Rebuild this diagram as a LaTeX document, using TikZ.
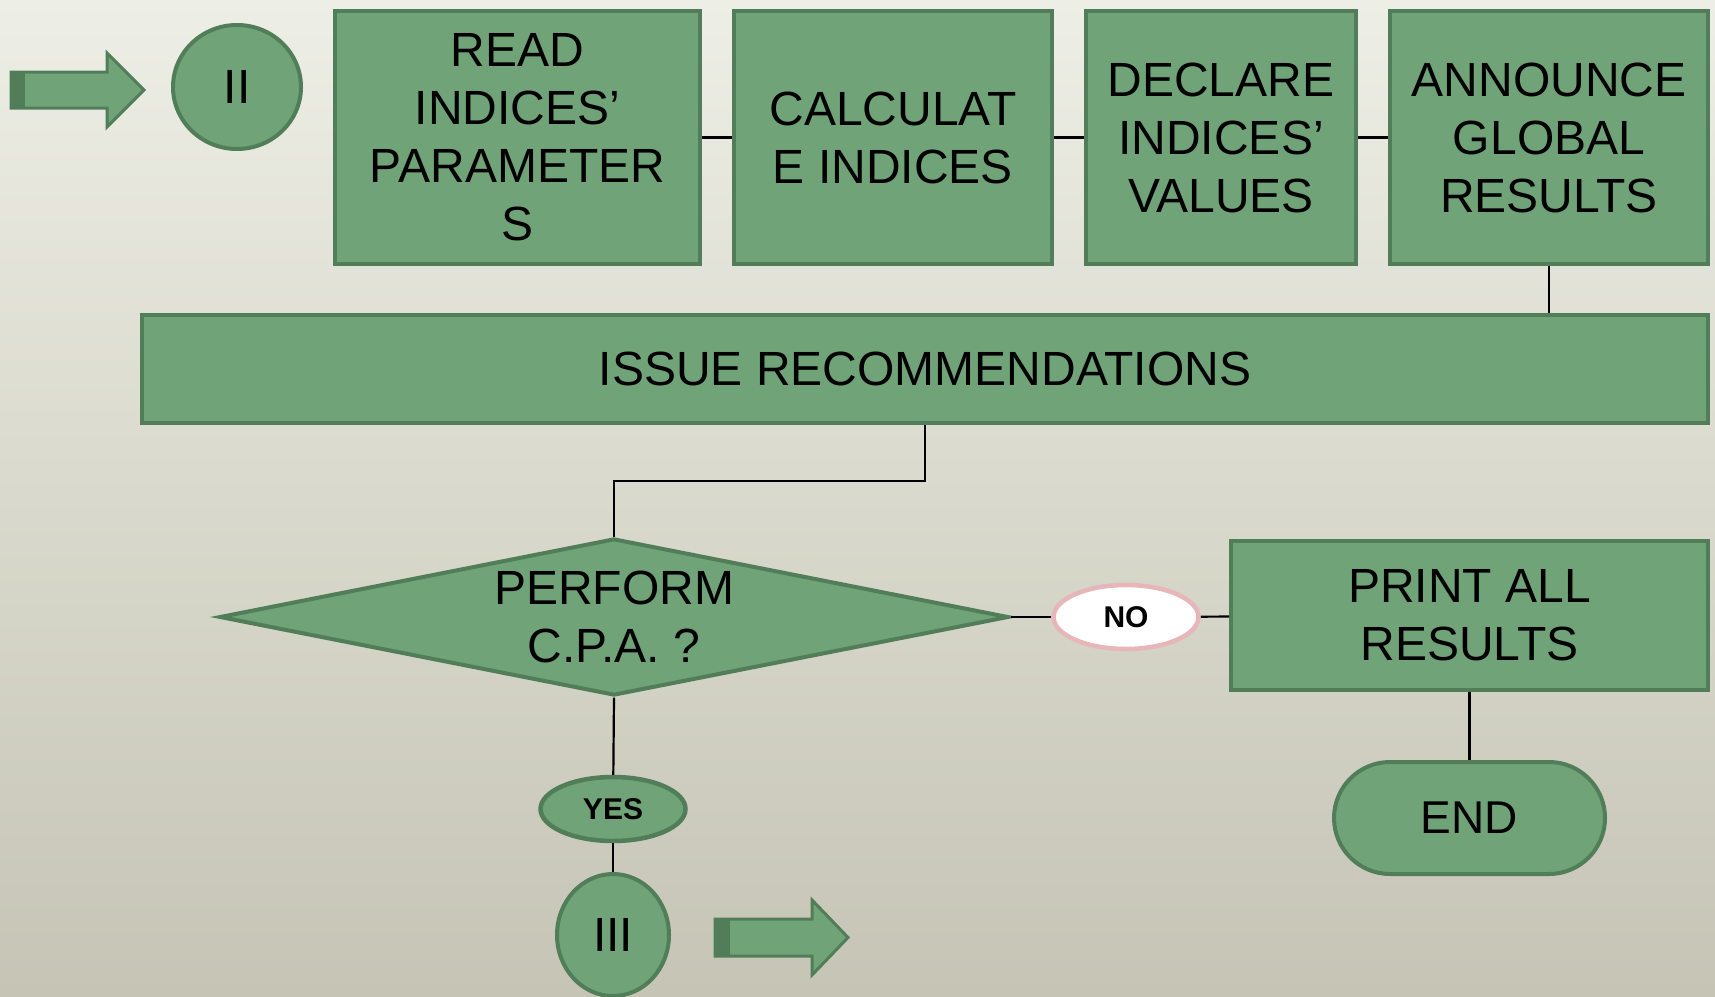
\documentclass[tikz,border=0pt]{standalone}
\usepackage{fontspec}
\setmainfont{Liberation Sans}
\usetikzlibrary{shapes.geometric}
\definecolor{boxfill}{RGB}{112,163,120}
\definecolor{boxline}{RGB}{81,125,89}
\definecolor{noline}{RGB}{230,182,184}
\definecolor{bgtop}{RGB}{237,238,229}
\definecolor{bgbot}{RGB}{197,196,181}

\begin{document}
\begin{tikzpicture}[x=1pt,y=-1pt,
  box/.style={draw=boxline,fill=boxfill,line width=4pt,align=center,inner sep=0pt,
    font=\fontsize{48}{58}\selectfont},
  oval/.style={box,ellipse},
  tag/.style={ellipse,line width=4.5pt,inner sep=0pt,minimum width=145pt,minimum height=64pt,
    font=\fontsize{30}{34}\selectfont\bfseries},
  conn/.style={line width=2.2pt}]
\fill[top color=bgtop,bottom color=bgbot] (0,0) rectangle (1715,996);
\useasboundingbox (0,0) rectangle (1715,996);

% block arrows
\filldraw[fill=boxfill,draw=boxline,line width=3pt,line join=miter]
  (11,72) -- (107,72) -- (107,53) -- (144,90) -- (107,127) -- (107,108) -- (11,108) -- cycle;
\fill[boxline] (11,72) rectangle (25,108);
\filldraw[fill=boxfill,draw=boxline,line width=3pt,line join=miter]
  (715,919) -- (812,919) -- (812,900) -- (848,937.5) -- (812,975) -- (812,956) -- (715,956) -- cycle;
\fill[boxline] (715,919) rectangle (730,956);

% top row
\node[oval,minimum width=128pt,minimum height=124pt](c2) at (237,87) {II};
\node[box,minimum width=365pt,minimum height=253pt](rd) at (517.5,137.5) {READ\\INDICES’\\PARAMETER\\S};
\node[box,minimum width=318pt,minimum height=253pt](cl) at (893,137.5) {CALCULAT\\E INDICES};
\node[box,minimum width=270pt,minimum height=253pt](dc) at (1221,137.5) {DECLARE\\INDICES’\\VALUES};
\node[box,minimum width=318pt,minimum height=253pt](an) at (1549,137.5) {ANNOUNCE\\GLOBAL\\RESULTS};

\node[box,minimum width=1566pt,minimum height=108pt](is) at (925,369) {ISSUE RECOMMENDATIONS};

% decision
\node[box,diamond,aspect=4.9,minimum width=789pt,minimum height=157pt](dia) at (614,617) {PERFORM\\C.P.A. ?};
\node[tag,draw=noline,fill=white](no) at (1126,617) {NO};
\node[box,minimum width=477pt,minimum height=149pt](pr) at (1469.5,615.5) {PRINT ALL\\RESULTS};
\node[box,rounded corners=56pt,minimum width=271pt,minimum height=112pt,
  font=\fontsize{46}{52}\selectfont](en) at (1469.5,818) {END};
\node[tag,draw=boxline,fill=boxfill](yes) at (613,809) {YES};
\node[oval,minimum width=112pt,minimum height=122pt](c3) at (613,935) {III};

\draw[conn] (rd)--(cl);
\draw[conn] (cl)--(dc);
\draw[conn] (dc)--(an);
\draw[conn] (an)--(an|-is.north);
\draw[conn] (is.south)--++(0,56)-|(dia.north);
\draw[conn] (dia.east)--(no);
\draw[conn] (no)--(pr);
\draw[conn] (pr)--(en);
\draw[conn] (dia.south)--(yes);
\draw[conn] (yes)--(c3);

\end{tikzpicture}
\end{document}
